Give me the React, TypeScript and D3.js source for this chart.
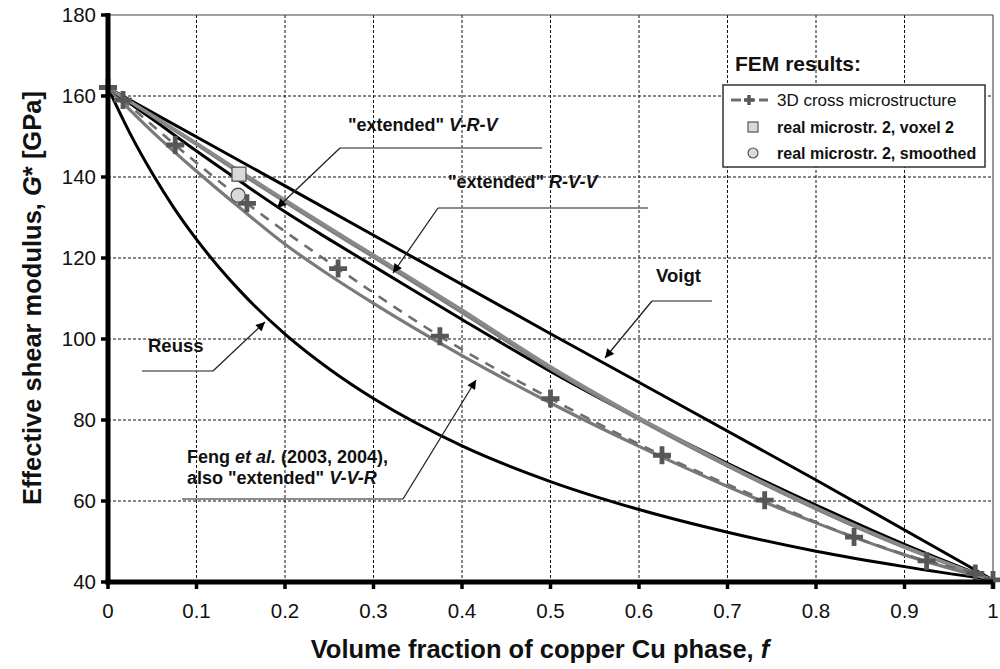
import React from "react";
import * as d3 from "d3";

// ---- data ----
const xTicks = [0, 0.1, 0.2, 0.3, 0.4, 0.5, 0.6, 0.7, 0.8, 0.9, 1];
const yTicks = [40, 60, 80, 100, 120, 140, 160, 180];

const fVoigt = [0, 0.2, 0.5, 0.8, 1];
const gVoigt = [162, 137.8, 101.3, 65.2, 40.5];

const fReuss = [0, 0.025, 0.05, 0.075, 0.1, 0.125, 0.15, 0.2, 0.25, 0.3, 0.4, 0.5, 0.6, 0.7, 0.8, 0.9, 1];
const gReuss = [162, 150.7, 140.9, 132.2, 124.6, 117.8, 111.7, 101.2, 92.6, 85.3, 73.6, 64.8, 57.9, 52.3, 47.6, 43.8, 40.5];

const fMid = [0, 0.05, 0.1, 0.15, 0.2, 0.25, 0.3, 0.4, 0.5, 0.6, 0.7, 0.8, 0.9, 1];
const gBlackMid = [162, 154.3, 146.4, 138.8, 131.4, 124.6, 118, 104.8, 92, 80.3, 69.3, 59, 49.3, 40.5];
const gVRV = [162, 155.3, 148.4, 141.3, 134.4, 127.5, 120.8, 107.2, 93.2, 80.6, 69, 58.4, 48.8, 40.5];
const gRVV = [162, 155, 148, 140.8, 133.8, 126.9, 120.2, 106.5, 92.6, 80.1, 68.6, 58, 48.5, 40.5];
const gFeng = [162, 151.2, 141.4, 132.2, 123.4, 115.8, 108.8, 95.9, 84.2, 73.5, 63.6, 54.6, 46.7, 40.5];

const fFEM = [0, 0.017, 0.076, 0.157, 0.26, 0.375, 0.5, 0.626, 0.742, 0.843, 0.925, 0.98, 1];
const gFEM = [162.1, 159, 147.9, 133.5, 117.4, 100.7, 85.3, 71.3, 60.2, 51.1, 45.2, 42.1, 40.5];

const voxelPoint = [0.148, 140.7];
const smoothedPoint = [0.147, 135.5];

const legendLabels = ["3D cross microstructure", "real microstr. 2, voxel 2", "real microstr. 2, smoothed"];

const FONT = "'Liberation Sans', Arial, Helvetica, sans-serif";

export default function App() {
  const x = d3.scaleLinear().domain([0, 1]).range([108, 993]);
  const y = d3.scaleLinear().domain([40, 180]).range([582, 15]);
  const line = d3
    .line<[number, number]>()
    .x((d) => x(d[0]))
    .y((d) => y(d[1]))
    .curve(d3.curveMonotoneX);
  const zip = (f: number[], g: number[]) => f.map((v, i) => [v, g[i]] as [number, number]);

  const plus = "M-9,0H9M0,-9V9";

  return (
    <svg
      width={1000}
      height={669}
      style={{ position: "absolute", left: 0, top: 0, background: "#fff" }}
      fontFamily={FONT}
    >
      <defs>
        <marker id="arr" viewBox="0 0 10 10" refX="10" refY="5" markerWidth="11" markerHeight="9" markerUnits="userSpaceOnUse" orient="auto">
          <path d="M0,0L10,5L0,10z" fill="#000" />
        </marker>
      </defs>
      <rect x={0} y={0} width={1000} height={669} fill="#fff" />
      {/* grid */}
      <g stroke="#111" strokeWidth={1} strokeDasharray="3,2">
        {xTicks.slice(1, -1).map((t) => (
          <line key={"gx" + t} x1={x(t)} x2={x(t)} y1={y(180)} y2={y(40)} />
        ))}
        {yTicks.slice(1, -1).map((t) => (
          <line key={"gy" + t} x1={x(0)} x2={x(1)} y1={y(t)} y2={y(t)} />
        ))}
      </g>
      {/* frame top/right */}
      <line x1={x(0)} x2={x(1)} y1={y(180)} y2={y(180)} stroke="#444" strokeWidth={1.2} />
      <line x1={x(1)} x2={x(1)} y1={y(180)} y2={y(40)} stroke="#555" strokeWidth={1.2} />

      {/* curves */}
      <g fill="none" strokeLinejoin="round" strokeLinecap="round">
        <path d={line(zip(fReuss, gReuss)) || ""} stroke="#000" strokeWidth={3} />
        <path d={line(zip(fVoigt, gVoigt)) || ""} stroke="#000" strokeWidth={3} />
        <path d={line(zip(fMid, gFeng)) || ""} stroke="#7a7a7a" strokeWidth={3.2} />
        <path d={line(zip(fMid, gBlackMid)) || ""} stroke="#000" strokeWidth={3} />
        <path d={line(zip(fMid, gRVV)) || ""} stroke="#808080" strokeWidth={3} />
        <path d={line(zip(fMid, gVRV)) || ""} stroke="#8a8a8a" strokeWidth={3} />
        <path d={line(zip(fFEM, gFEM)) || ""} stroke="#6e6e6e" strokeWidth={2.6} strokeDasharray="10,8" strokeLinecap="butt" />
      </g>
      <g stroke="#575757" strokeWidth={4.8} fill="none">
        {fFEM.map((f, i) => (
          <path key={"p" + i} d={plus} transform={`translate(${x(f)},${y(gFEM[i])})`} />
        ))}
      </g>
      <rect x={x(voxelPoint[0]) - 7} y={y(voxelPoint[1]) - 7} width={14} height={14} fill="#d9d9d9" stroke="#555" strokeWidth={1.3} />
      <circle cx={x(smoothedPoint[0])} cy={y(smoothedPoint[1])} r={7} fill="#d9d9d9" stroke="#555" strokeWidth={1.3} />

      {/* axes */}
      <line x1={x(0)} x2={x(0)} y1={y(180) - 2} y2={y(40) + 2.5} stroke="#000" strokeWidth={5} />
      <line x1={x(0) - 2.5} x2={x(1)} y1={y(40)} y2={y(40)} stroke="#000" strokeWidth={5} />
      <g stroke="#000" strokeWidth={3.5}>
        {yTicks.map((t) => (
          <line key={"ty" + t} x1={x(0) - 7} x2={x(0)} y1={y(t)} y2={y(t)} />
        ))}
        {xTicks.map((t) => (
          <line key={"tx" + t} x1={x(t)} x2={x(t)} y1={y(40)} y2={y(40) + 7} />
        ))}
      </g>
      <g fontSize={20.5} fill="#111">
        {yTicks.map((t) => (
          <text key={"ly" + t} x={x(0) - 12} y={y(t)} dy="0.36em" textAnchor="end">
            {t}
          </text>
        ))}
        {xTicks.map((t) => (
          <text key={"lx" + t} x={x(t)} y={618} textAnchor="middle">
            {t}
          </text>
        ))}
      </g>
      {/* axis titles */}
      <text x={540} y={658} textAnchor="middle" fontSize={25.5} fontWeight="bold" fill="#111">
        Volume fraction of copper Cu phase, <tspan fontStyle="italic">f</tspan>
      </text>
      <text transform="translate(41,298) rotate(-90)" textAnchor="middle" fontSize={25.5} fontWeight="bold" fill="#111">
        Effective shear modulus, <tspan fontStyle="italic">G</tspan>* [GPa]
      </text>

      {/* annotations */}
      <g fontSize={18} fontWeight="bold" fill="#111">
        <text x={348} y={131}>
          "extended" <tspan fontStyle="italic">V-R-V</tspan>
        </text>
        <text x={448} y={188}>
          "extended" <tspan fontStyle="italic">R-V-V</tspan>
        </text>
        <text x={656} y={282} fontSize={18.5}>Voigt</text>
        <text x={148} y={352} fontSize={18.5}>Reuss</text>
        <text x={187} y={463}>
          Feng <tspan fontStyle="italic">et al.</tspan> (2003, 2004),
        </text>
        <text x={187} y={484}>
          also "extended" <tspan fontStyle="italic">V-V-R</tspan>
        </text>
      </g>
      <g fill="none" strokeWidth={1.3}>
        <polyline points="542,148 340,148" stroke="#666" />
        <line x1={340} y1={148} x2={277} y2={208} stroke="#222" markerEnd="url(#arr)" />
        <polyline points="648,208 438,208" stroke="#666" />
        <line x1={438} y1={208} x2={393} y2={273} stroke="#222" markerEnd="url(#arr)" />
        <polyline points="712,301 652,301" stroke="#666" />
        <line x1={652} y1={301} x2={605} y2={358} stroke="#222" markerEnd="url(#arr)" />
        <polyline points="142,371 213,371" stroke="#666" />
        <line x1={213} y1={371} x2={265} y2={322} stroke="#222" markerEnd="url(#arr)" />
        <polyline points="182,499 403,499" stroke="#666" />
        <line x1={403} y1={499} x2={476} y2={380} stroke="#222" markerEnd="url(#arr)" />
      </g>

      {/* legend */}
      <text x={735} y={71} fontSize={21} fontWeight="bold" fill="#111">
        FEM results:
      </text>
      <rect x={723} y={85} width={262} height={82} fill="#fff" stroke="#333" strokeWidth={1.5} />
      <line x1={731} x2={768} y1={100} y2={100} stroke="#6e6e6e" strokeWidth={3} strokeDasharray="10,4" />
      <path d="M-5,0H5M0,-5V5" transform="translate(749,100)" stroke="#595959" strokeWidth={3.5} />
      <rect x={748} y={122} width={10} height={10} fill="#d9d9d9" stroke="#555" strokeWidth={1.2} />
      <circle cx={753} cy={153} r={5} fill="#d9d9d9" stroke="#555" strokeWidth={1.2} />
      <text x={777} y={106} fontSize={17} fill="#111">{legendLabels[0]}</text>
      <text x={777} y={133} fontSize={16} fontWeight="bold" fill="#111">{legendLabels[1]}</text>
      <text x={777} y={159} fontSize={16} fontWeight="bold" fill="#111">{legendLabels[2]}</text>
    </svg>
  );
}
